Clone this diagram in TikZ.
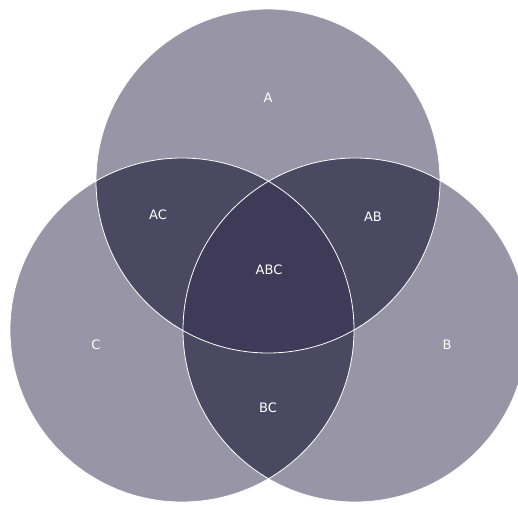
\documentclass[tikz,border=0pt]{standalone}
\usepackage{fontspec}
\setsansfont{DejaVu Sans}
\definecolor{vennone}{HTML}{9896A6}
\definecolor{venntwo}{HTML}{4B4862}
\definecolor{vennthree}{HTML}{3E3A58}
\begin{document}
\begin{tikzpicture}[x=1pt,y=-1pt,
    lbl/.style={text=white,font=\sffamily\fontsize{13}{15}\selectfont},
    rim/.style={draw=white,line width=0.8pt}]
    \useasboundingbox (0,0) rectangle (518,504);
    \coordinate (ca) at (268,181);
    \coordinate (cb) at (355,330);
    \coordinate (cc) at (182,330);
    % single regions
    \fill[vennone] (ca) circle (172pt) (cb) circle (172pt) (cc) circle (172pt);
    % pairwise overlaps
    \begin{scope}
        \clip (ca) circle (172pt);
        \fill[venntwo] (cb) circle (172pt) (cc) circle (172pt);
    \end{scope}
    \begin{scope}
        \clip (cb) circle (172pt);
        \fill[venntwo] (cc) circle (172pt);
    \end{scope}
    % triple overlap
    \begin{scope}
        \clip (ca) circle (172pt);
        \clip (cb) circle (172pt);
        \fill[vennthree] (cc) circle (172pt);
    \end{scope}
    \draw[rim] (ca) circle (172pt) (cb) circle (172pt) (cc) circle (172pt);
    \node[lbl] (la) at (268,98) {A};
    \node[lbl] (lb) at (447,345) {B};
    \node[lbl] (lc) at (96,345) {C};
    \node[lbl] (lac) at (158,215) {AC};
    \node[lbl] (lab) at (373,217) {AB};
    \node[lbl] (labc) at (269,270) {ABC};
    \node[lbl] (lbc) at (268,408) {BC};
\end{tikzpicture}
\end{document}
